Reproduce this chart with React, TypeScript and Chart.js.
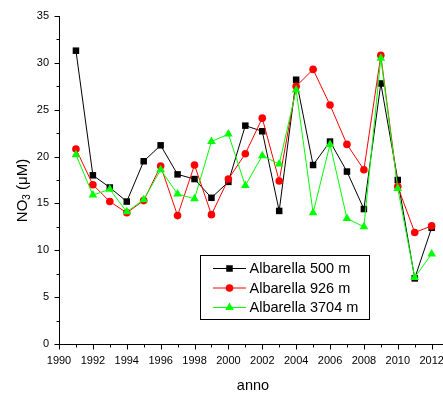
import React, { useEffect, useRef } from 'react';
import { Chart, registerables } from 'chart.js';

Chart.register(...registerables);

const years = [1991, 1992, 1993, 1994, 1995, 1996, 1997, 1998, 1999, 2000, 2001, 2002, 2003, 2004, 2005, 2006, 2007, 2008, 2009, 2010, 2011, 2012];
const albarella500 = [31.3, 18.0, 16.7, 15.2, 19.5, 21.2, 18.1, 17.6, 15.6, 17.3, 23.3, 22.7, 14.2, 28.2, 19.1, 21.6, 18.4, 14.4, 27.8, 17.5, 7.0, 12.4];
const albarella926 = [20.8, 17.0, 15.2, 14.0, 15.3, 19.0, 13.7, 19.1, 13.8, 17.6, 20.3, 24.1, 17.4, 27.5, 29.3, 25.5, 21.3, 18.6, 30.8, 16.8, 11.9, 12.6];
const albarella3704 = [20.2, 15.9, 16.5, 14.1, 15.4, 18.6, 16.0, 15.5, 21.6, 22.4, 16.9, 20.1, 19.2, 27.1, 14.0, 21.3, 13.4, 12.5, 30.5, 16.6, 7.1, 9.6];
const seriesNames = ['Albarella 500 m', 'Albarella 926 m', 'Albarella 3704 m'];
const seriesColors = ['#000000', '#ff0000', '#00ff00'];
const seriesShapes = ['rect', 'circle', 'triangle'];
const xTickLabels = [1990, 1992, 1994, 1996, 1998, 2000, 2002, 2004, 2006, 2008, 2010, 2012];
const yTickLabels = [0, 5, 10, 15, 20, 25, 30, 35];
const xTitle = 'anno';
const FONT = '"Liberation Sans", Arial, sans-serif';

const pointRadii: Record<string, number> = { rect: 4.6, circle: 3.8, triangle: 5 };

function drawMarker(ctx: CanvasRenderingContext2D, shape: string, x: number, y: number, color: string) {
  const r = pointRadii[shape];
  ctx.fillStyle = color;
  ctx.beginPath();
  if (shape === 'rect') {
    const s = Math.SQRT1_2 * r;
    ctx.rect(x - s, y - s, 2 * s, 2 * s);
  } else if (shape === 'circle') {
    ctx.arc(x, y, r, 0, Math.PI * 2);
  } else {
    const a = (2 * Math.PI) / 3;
    ctx.moveTo(x, y - r);
    ctx.lineTo(x + Math.sin(a) * r, y - Math.cos(a) * r);
    ctx.lineTo(x + Math.sin(2 * a) * r, y - Math.cos(2 * a) * r);
    ctx.closePath();
  }
  ctx.fill();
}

const decorPlugin = {
  id: 'decor',
  afterDraw(chart: any) {
    const ctx: CanvasRenderingContext2D = chart.ctx;
    const xs = chart.scales.x;
    const ys = chart.scales.y;
    const area = chart.chartArea;
    ctx.save();
    ctx.strokeStyle = '#000';
    ctx.lineWidth = 1;
    const left = Math.round(area.left) + 0.5;
    for (let v = 0; v <= 35; v += 2.5) {
      const py = Math.round(ys.getPixelForValue(v)) + 0.5;
      const len = v % 5 === 0 ? 5 : 3;
      ctx.beginPath();
      ctx.moveTo(left - len, py);
      ctx.lineTo(left, py);
      ctx.stroke();
    }
    const bottom = Math.round(area.bottom) + 0.5;
    for (let yr = 1990; yr <= 2012; yr++) {
      const px = Math.round(xs.getPixelForValue(yr)) + 0.5;
      const len = yr % 2 === 0 ? 5 : 3;
      ctx.beginPath();
      ctx.moveTo(px, bottom);
      ctx.lineTo(px, bottom + len);
      ctx.stroke();
    }
    ctx.fillStyle = '#000';
    ctx.font = `14.5px ${FONT}`;
    ctx.textAlign = 'center';
    ctx.textBaseline = 'middle';
    ctx.fillText(xTitle, 253, 386);
    ctx.save();
    ctx.translate(21, 190.5);
    ctx.rotate(-Math.PI / 2);
    const mainFont = `15px ${FONT}`;
    const subFont = `10px ${FONT}`;
    ctx.font = mainFont;
    const w1 = ctx.measureText('NO').width;
    const w3 = ctx.measureText(' (μM)').width;
    ctx.font = subFont;
    const w2 = ctx.measureText('3').width;
    const total = w1 + w2 + w3;
    let cx = -total / 2;
    ctx.textAlign = 'left';
    ctx.textBaseline = 'alphabetic';
    ctx.font = mainFont;
    ctx.fillText('NO', cx, 5.5);
    cx += w1;
    ctx.font = subFont;
    ctx.fillText('3', cx, 9);
    cx += w2;
    ctx.font = mainFont;
    ctx.fillText(' (μM)', cx, 5.5);
    ctx.restore();
    ctx.strokeStyle = '#000';
    ctx.strokeRect(200.5, 255.5, 169, 64);
    const rows = [268.5, 288, 307.5];
    ctx.font = `14.5px ${FONT}`;
    ctx.textAlign = 'left';
    ctx.textBaseline = 'middle';
    for (let i = 0; i < seriesNames.length; i++) {
      const ry = rows[i];
      ctx.strokeStyle = seriesColors[i];
      ctx.beginPath();
      ctx.moveTo(213, ry);
      ctx.lineTo(246, ry);
      ctx.stroke();
      drawMarker(ctx, seriesShapes[i], 229.5, ry, seriesColors[i]);
      ctx.fillStyle = '#000';
      ctx.fillText(seriesNames[i], 249.5, ry + 0.5);
    }
    ctx.restore();
  },
};

export default function App() {
  const ref = useRef<HTMLCanvasElement | null>(null);
  useEffect(() => {
    if (!ref.current) return;
    const allSeries = [albarella500, albarella926, albarella3704];
    const chart = new Chart(ref.current, {
      type: 'line',
      data: {
        datasets: allSeries.map((vals, i) => ({
          label: seriesNames[i],
          data: years.map((yr, j) => ({ x: yr, y: vals[j] })),
          borderColor: seriesColors[i],
          backgroundColor: seriesColors[i],
          borderWidth: 1,
          pointStyle: seriesShapes[i] as any,
          pointRadius: pointRadii[seriesShapes[i]],
          pointBorderWidth: 0,
          pointBackgroundColor: seriesColors[i],
          tension: 0,
          order: 3 - i,
        })),
      },
      options: {
        animation: false,
        responsive: false,
        layout: { autoPadding: false, padding: { top: 16, left: 0, right: 0, bottom: 0 } },
        plugins: { legend: { display: false }, tooltip: { enabled: false } },
        scales: {
          x: {
            type: 'linear',
            min: 1990,
            max: 2012.67,
            grid: { display: false, drawTicks: false },
            border: { display: true, color: '#000', width: 1 },
            afterBuildTicks: (s: any) => {
              s.ticks = xTickLabels.map((v) => ({ value: v }));
            },
            afterFit: (s: any) => {
              s.height = 50;
              s.paddingLeft = 0;
              s.paddingRight = 0;
            },
            ticks: {
              autoSkip: false,
              maxRotation: 0,
              includeBounds: false,
              padding: 10,
              color: '#000',
              font: { family: FONT, size: 11 },
              callback: (v: any) => String(v),
            },
          },
          y: {
            type: 'linear',
            min: 0,
            max: 35,
            grid: { display: false, drawTicks: false },
            border: { display: true, color: '#000', width: 1 },
            afterBuildTicks: (s: any) => {
              s.ticks = yTickLabels.map((v) => ({ value: v }));
            },
            afterFit: (s: any) => {
              s.width = 59;
              s.paddingTop = 0;
              s.paddingBottom = 0;
            },
            ticks: {
              padding: 10,
              color: '#000',
              font: { family: FONT, size: 11 },
              callback: (v: any) => String(v),
            },
          },
        },
      },
      plugins: [decorPlugin],
    });
    return () => chart.destroy();
  }, []);
  return (
    <div style={{ position: 'fixed', left: 0, top: 0, width: 443, height: 394, background: '#fff' }}>
      <canvas ref={ref} width={443} height={394} style={{ display: 'block' }} />
    </div>
  );
}
